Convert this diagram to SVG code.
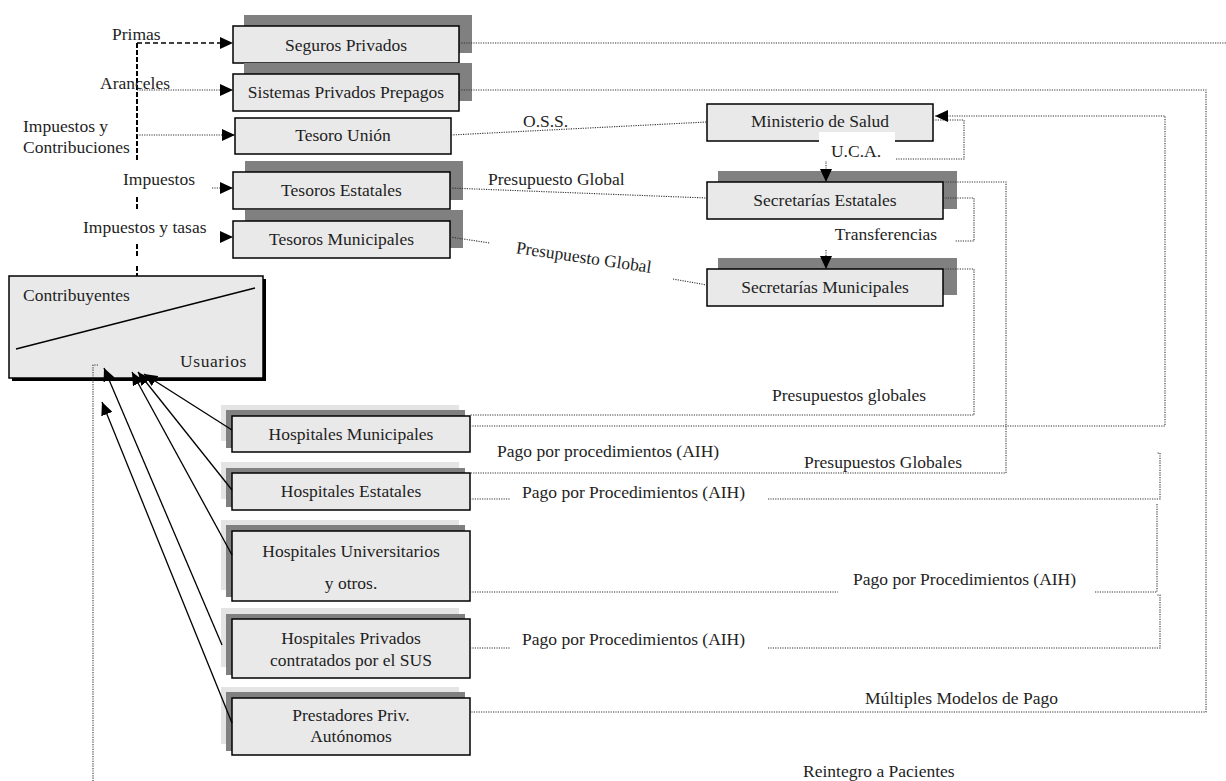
<svg xmlns="http://www.w3.org/2000/svg" width="1226" height="781" viewBox="0 0 1226 781">
  <defs>
    <marker id="arrow" markerUnits="userSpaceOnUse" markerWidth="14" markerHeight="12" refX="13" refY="6" orient="auto">
      <path d="M0,0 L13,6 L0,12 Z" fill="#000"/>
    </marker>
  </defs>
  <style>
    .box { fill: #e9e9e9; stroke: #000; stroke-width: 1.5; }
    .shade { fill: #808080; }
    .halo { fill: #e4e4e4; }
    .t { font-family: "Liberation Serif", "Times New Roman", serif; font-size: 17.5px; fill: #1e1e1e; }
    .c { text-anchor: middle; }
    .dot { fill: none; stroke: #333; stroke-width: 1.1; stroke-dasharray: 1.2 1.2; }
    .dash { fill: none; stroke: #000; stroke-width: 1.5; stroke-dasharray: 5 3; }
    .thick { fill: none; stroke: #000; stroke-width: 2; stroke-dasharray: 5 2; }
    .solid { fill: none; stroke: #000; stroke-width: 1.3; }
  </style>
  <rect width="1226" height="781" fill="#fff"/>

  <!-- funding sources -->
  <g id="seguros-privados">
    <rect class="shade" x="244" y="15" width="228" height="38"/>
    <rect class="box" x="233" y="26" width="226" height="37"/>
    <text class="t c" x="346" y="51">Seguros Privados</text>
  </g>
  <g id="sistemas-privados-prepagos">
    <rect class="shade" x="244" y="63" width="228" height="38"/>
    <rect class="box" x="233" y="74" width="226" height="37"/>
    <text class="t c" x="346" y="98">Sistemas Privados Prepagos</text>
  </g>
  <g id="tesoro-union">
    <rect class="box" x="235" y="118" width="216" height="36"/>
    <text class="t c" x="343" y="141">Tesoro Unión</text>
  </g>
  <g id="tesoros-estatales">
    <rect class="shade" x="245" y="161" width="218" height="39"/>
    <rect class="box" x="233" y="172" width="217" height="37"/>
    <text class="t c" x="341.5" y="196">Tesoros Estatales</text>
  </g>
  <g id="tesoros-municipales">
    <rect class="shade" x="245" y="210" width="218" height="38"/>
    <rect class="box" x="233" y="221" width="217" height="37"/>
    <text class="t c" x="341.5" y="245">Tesoros Municipales</text>
  </g>

  <!-- health authorities -->
  <g id="ministerio-de-salud">
    <rect class="box" x="707" y="104" width="226" height="37"/>
    <text class="t c" x="820" y="127">Ministerio de Salud</text>
  </g>
  <g id="secretarias-estatales">
    <rect class="shade" x="718" y="171" width="239" height="38"/>
    <rect class="box" x="707" y="182" width="236" height="37"/>
    <text class="t c" x="825" y="206">Secretarías Estatales</text>
  </g>
  <g id="secretarias-municipales">
    <rect class="shade" x="718" y="258" width="239" height="37"/>
    <rect class="box" x="707" y="269" width="236" height="37"/>
    <text class="t c" x="825" y="293">Secretarías Municipales</text>
  </g>

  <!-- population -->
  <g id="contribuyentes-usuarios">
    <rect x="12" y="279" width="254" height="102" fill="#000"/>
    <rect class="box" x="9" y="276" width="254" height="102"/>
    <line class="solid" x1="16" y1="349" x2="255" y2="288"/>
    <text class="t" x="23" y="301">Contribuyentes</text>
    <text class="t" x="180" y="367" letter-spacing="0.6">Usuarios</text>
  </g>

  <!-- providers -->
  <g id="hospitales-municipales">
    <rect class="halo" x="221" y="405" width="238" height="36"/>
    <rect class="shade" x="226" y="410" width="239" height="38"/>
    <rect class="box" x="232" y="416" width="238" height="36"/>
    <text class="t c" x="351" y="440">Hospitales Municipales</text>
  </g>
  <g id="hospitales-estatales">
    <rect class="halo" x="221" y="462" width="238" height="37"/>
    <rect class="shade" x="226" y="468" width="239" height="39"/>
    <rect class="box" x="232" y="473" width="238" height="37"/>
    <text class="t c" x="351" y="497">Hospitales Estatales</text>
  </g>
  <g id="hospitales-universitarios">
    <rect class="halo" x="221" y="520" width="238" height="70"/>
    <rect class="shade" x="226" y="525" width="239" height="72"/>
    <rect class="box" x="232" y="531" width="238" height="70"/>
    <text class="t c" x="351" y="557">Hospitales Universitarios</text>
    <text class="t c" x="351" y="589">y otros.</text>
  </g>
  <g id="hospitales-privados">
    <rect class="halo" x="221" y="608" width="238" height="59"/>
    <rect class="shade" x="226" y="614" width="239" height="61"/>
    <rect class="box" x="232" y="619" width="238" height="59"/>
    <text class="t c" x="351" y="644">Hospitales Privados</text>
    <text class="t c" x="351" y="666">contratados por el SUS</text>
  </g>
  <g id="prestadores-autonomos">
    <rect class="halo" x="221" y="687" width="238" height="57"/>
    <rect class="shade" x="226" y="692" width="239" height="59"/>
    <rect class="box" x="232" y="698" width="238" height="57"/>
    <text class="t c" x="351" y="721">Prestadores Priv.</text>
    <text class="t c" x="351" y="742">Autónomos</text>
  </g>

  <g id="connectors">
    <!-- contributions into the funding sources -->
    <path class="thick" d="M137,43 V160 M137,197 V210 M137,244 V258 M137,266 V276"/>
    <path class="dash" d="M137,43 H233" marker-end="url(#arrow)"/>
    <path class="dot" d="M137,90 H233" marker-end="url(#arrow)"/>
    <path class="dot" d="M137,135 H235" marker-end="url(#arrow)"/>
    <path class="dot" d="M212,188 H233" marker-end="url(#arrow)"/>
    <path class="dot" d="M221,237 H233" marker-end="url(#arrow)"/>

    <!-- flows between funding sources and authorities -->
    <path class="dot" d="M459,43 H1226"/>
    <path class="dot" d="M459,90 H1206 V712 H470"/>
    <path class="dot" d="M451,135 L707,122"/>
    <path class="dot" d="M450,188 L707,198"/>
    <path class="dot" d="M450,237 L490,243 M673,279 L707,285"/>
    <path class="dot" d="M933,120 H964 V159 H895"/>
    <path class="dot" d="M826,141 V182" marker-end="url(#arrow)"/>
    <path class="dot" d="M470,426 H1165 V116 H935" marker-end="url(#arrow)"/>
    <path class="dot" d="M943,182 H1006 V473 H470"/>
    <path class="dot" d="M943,198 H974 V241 H955"/>
    <path class="dot" d="M826,250 V269" marker-end="url(#arrow)"/>
    <path class="dot" d="M943,269 H974 V415 H470"/>

    <!-- payments to providers -->
    <path class="dot" d="M470,499 H510 M768,499 H1160 V453 H1157"/>
    <path class="dot" d="M470,592 H838 M1095,592 H1157 V504"/>
    <path class="dot" d="M470,648 H510 M768,648 H1160 V595 H1157"/>
    <path class="dot" d="M98,365 H93 V781"/>

    <!-- services to users -->
    <path class="solid" d="M232,430 L144,374" marker-end="url(#arrow)"/>
    <path class="solid" d="M232,490 L138,372" marker-end="url(#arrow)"/>
    <path class="solid" d="M232,555 L132,372" marker-end="url(#arrow)"/>
    <path class="solid" d="M222,645 L104,368" marker-end="url(#arrow)"/>
    <path class="solid" d="M232,723 L102,402" marker-end="url(#arrow)"/>
  </g>

  <g id="labels">
    <text class="t" x="112" y="40">Primas</text>
    <text class="t" x="100" y="89">Aranceles</text>
    <text class="t" x="23" y="132">Impuestos y</text>
    <text class="t" x="23" y="153">Contribuciones</text>
    <text class="t" x="123" y="185">Impuestos</text>
    <text class="t" x="83" y="233">Impuestos y tasas</text>
    <text class="t" x="523" y="127">O.S.S.</text>
    <text class="t" x="488" y="185">Presupuesto Global</text>
    <text class="t c" x="583" y="263" transform="rotate(8.3 583 263)">Presupuesto Global</text>
    <rect x="819" y="132" width="76" height="29" fill="#fff"/>
    <text class="t c" x="856" y="157">U.C.A.</text>
    <rect x="820" y="222" width="135" height="28" fill="#fff"/>
    <text class="t c" x="886" y="240">Transferencias</text>
    <text class="t" x="772" y="401">Presupuestos globales</text>
    <text class="t" x="497" y="457">Pago por procedimientos (AIH)</text>
    <text class="t" x="804" y="468">Presupuestos Globales</text>
    <text class="t" x="522" y="498">Pago por Procedimientos (AIH)</text>
    <text class="t" x="853" y="585">Pago por Procedimientos (AIH)</text>
    <text class="t" x="522" y="645">Pago por Procedimientos (AIH)</text>
    <text class="t" x="865" y="704">Múltiples Modelos de Pago</text>
    <text class="t" x="803" y="777">Reintegro a Pacientes</text>
  </g>
</svg>
